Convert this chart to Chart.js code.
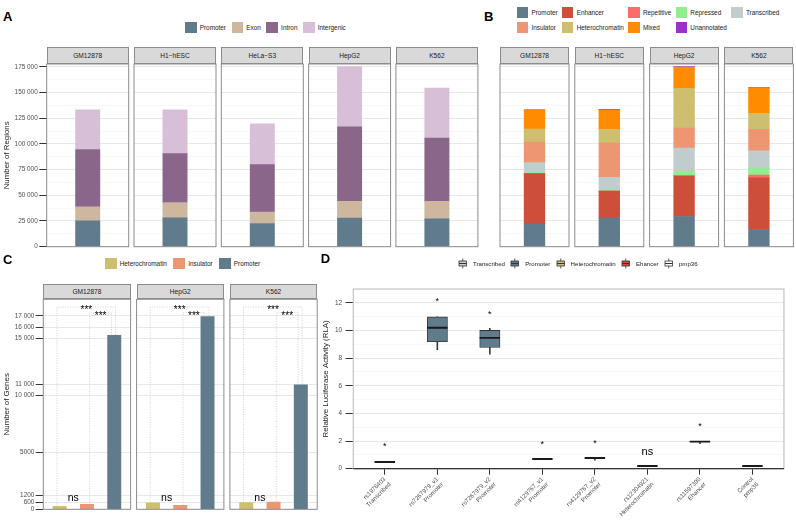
<!DOCTYPE html>
<html>
<head>
<meta charset="utf-8">
<title>Regulatory regions</title>
<script src="https://cdn.jsdelivr.net/npm/chart.js@4.4.1/dist/chart.umd.min.js"></script>
<style>
  html, body { margin: 0; padding: 0; background: #ffffff; }
  #page { position: relative; width: 796px; height: 528px; overflow: hidden; font-family: 'Liberation Sans', Arial, sans-serif; }
  #page canvas, .strip, .legend, .tag { position: absolute; }
  .tag { font-size: 13px; line-height: 13px; font-weight: bold; color: #000; }
  .strip { box-sizing: border-box; background: #d9d9d9; border: 1px solid #8c8c8c; color: #1a1a1a; font-size: 6.6px; display: flex; align-items: center; justify-content: center; }
  .legend { display: flex; align-items: center; height: 11px; font-size: 6.4px; color: #1a1a1a; white-space: nowrap; }
  .legend.grid { display: grid; grid-template-columns: repeat(5, auto); height: auto; }
  .key { display: flex; align-items: center; height: 11px; }
  .swatch { width: 11.5px; height: 11px; margin-right: 3.2px; flex: none; }
</style>
</head>
<body>
<div id="page"></div>
<script>
// ---- A: genomic annotation of the regions, per cell line ----
const cellsA = ['GM12878', 'H1\u2212hESC', 'HeLa\u2212S3', 'HepG2', 'K562'];
const featuresA = ['Promoter', 'Exon', 'Intron', 'Intergenic'];
const featureColoursA = ['#607B8B', '#CDB79E', '#8B668B', '#D8BFD8'];
const promoterA = [25200, 28100, 22600, 27800, 27100];
const exonA = [13700, 14700, 11100, 16300, 17000];
const intronA = [55600, 47800, 46100, 72600, 61500];
const intergenicA = [38600, 42500, 39600, 58600, 48700];

// ---- B: chromatin state of the regions, per cell line ----
const cellsB = ['GM12878', 'H1\u2212hESC', 'HepG2', 'K562'];
const statesB = ['Promoter', 'Enhancer', 'Repetitive', 'Repressed', 'Transcribed', 'Insulator', 'Heterochromatin', 'Mixed', 'Unannotated'];
const stateColoursB = ['#607B8B', '#CD4F39', '#FF6A6A', '#90EE90', '#C1CDCD', '#EE9572', '#CDBE70', '#FF8C00', '#9932CC'];
const promoterB = [22200, 28100, 29400, 16700];
const enhancerB = [48800, 25900, 39300, 50300];
const repetitiveB = [0, 0, 500, 2700];
const repressedB = [1000, 1000, 4400, 6500];
const transcribedB = [9800, 12400, 22200, 17000];
const insulatorB = [19900, 33300, 19600, 20600];
const heterochromatinB = [12800, 13400, 38600, 16000];
const mixedB = [18600, 19000, 20600, 24500];
const unannotatedB = [0, 600, 700, 500];

// shared y axis of A and B
const regionMax = 177700;
const regionMajor = [0, 25000, 50000, 75000, 100000, 125000, 150000, 175000];
const regionMinor = [12500, 37500, 62500, 87500, 112500, 137500, 162500];
const regionTickLabels = ['0', '25 000', '50 000', '75 000', '100 000', '125 000', '150 000', '175 000'];

// ---- C: genes near each class of region ----
const cellsC = ['GM12878', 'HepG2', 'K562'];
const classesC = ['Heterochromatin', 'Insulator', 'Promoter'];
const classColoursC = ['#CDBE70', '#EE9572', '#607B8B'];
const heterochromatinC = [260, 560, 590];
const insulatorC = [440, 350, 640];
const promoterC = [15300, 16950, 10950];
const geneMax = 18460;
const geneTicks = [0, 600, 1200, 5000, 10000, 11000, 15000, 16000, 17000];
const geneTickLabels = ['0', '600', '1200', '5000', '10 000', '11 000', '15 000', '16 000', '17 000'];
const bracketHeightsC = [17780, 17280];
const bracketLabelsC = ['***', '***'];
const nsHeightC = 990;

// ---- D: luciferase assay ----
const constructsD = ['rs1976403', 'rs7267979_v1', 'rs7267979_v2', 'rs4129767_v1', 'rs4129767_v2', 'rs12304921', 'rs11597390', 'Control'];
const groupsD = ['Transcribed', 'Promoter', 'Promoter', 'Promoter', 'Promoter', 'Heterochromatin', 'Ehancer', 'pmp36'];
const groupNamesD = ['Transcribed', 'Promoter', 'Heterochromatin', 'Ehancer', 'pmp36'];
const groupColoursD = ['#C1CDCD', '#607B8B', '#CDBE70', '#CD4F39', '#FFFFFF'];
const lowD = [0.47, 8.61, 8.28, 0.69, 0.61, 0.18, 1.82, 0.18];
const q1D = [0.47, 9.19, 8.77, 0.69, 0.75, 0.18, 1.94, 0.18];
const medianD = [0.49, 10.2, 9.47, 0.70, 0.77, 0.19, 1.96, 0.19];
const q3D = [0.51, 10.99, 10.01, 0.72, 0.79, 0.21, 1.98, 0.21];
const highD = [0.51, 10.99, 10.15, 0.72, 0.79, 0.21, 1.98, 0.21];
const sigD = ['*', '*', '*', '*', '*', 'ns', '*', ''];
const sigHeightD = [1.68, 12.19, 11.25, 1.87, 1.96, 1.19, 3.16, null];
const rlaMajor = [0, 2, 4, 6, 8, 10, 12];
const rlaMinor = [1, 3, 5, 7, 9, 11];

const INK = '#333333';
const TICK_TEXT = '#4d4d4d';
const TITLE_TEXT = '#1a1a1a';
const FRAME = '#8c8c8c';
const GRID_MAJOR = '#e8e8e8';
const GRID_MINOR = '#f4f4f4';
const FONT = "'Liberation Sans', Arial, sans-serif";

Chart.defaults.font.family = FONT;
Chart.defaults.animation = false;
Chart.defaults.responsive = false;
Chart.defaults.plugins.legend.display = false;
Chart.defaults.plugins.tooltip.enabled = false;

const page = document.getElementById('page');

function addCanvas(left, top, width, height) {
    const c = document.createElement('canvas');
    c.width = width;
    c.height = height;
    c.style.left = left + 'px';
    c.style.top = top + 'px';
    page.appendChild(c);
    return c;
}

function addStrip(text, left, top, width, height) {
    const d = document.createElement('div');
    d.className = 'strip';
    d.textContent = text;
    Object.assign(d.style, { left: left + 'px', top: top + 'px', width: width + 'px', height: height + 'px' });
    page.appendChild(d);
}

function addTag(text, left, top) {
    const d = document.createElement('div');
    d.className = 'tag';
    d.textContent = text;
    d.style.left = left + 'px';
    d.style.top = top + 'px';
    page.appendChild(d);
}

function makeKey(name, swatch) {
    const key = document.createElement('div');
    key.className = 'key';
    key.appendChild(swatch);
    const label = document.createElement('span');
    label.textContent = name;
    key.appendChild(label);
    return key;
}

function colourSwatch(colour) {
    const s = document.createElement('span');
    s.className = 'swatch';
    s.style.background = colour;
    return s;
}

function boxSwatch(colour) {
    const s = document.createElementNS('http://www.w3.org/2000/svg', 'svg');
    s.setAttribute('width', '11.5');
    s.setAttribute('height', '11');
    s.style.marginRight = '4.3px';
    s.style.flex = 'none';
    s.innerHTML =
        '<line x1="5.75" y1="0.5" x2="5.75" y2="10.5" stroke="' + INK + '" stroke-width="0.8"/>' +
        '<rect x="2" y="3" width="7.5" height="5" fill="' + colour + '" stroke="' + INK + '" stroke-width="0.8"/>' +
        '<line x1="2" y1="5.5" x2="9.5" y2="5.5" stroke="' + INK + '" stroke-width="1"/>';
    return s;
}

function addLegend(keys, style, className) {
    const d = document.createElement('div');
    d.className = className || 'legend';
    Object.assign(d.style, style);
    keys.forEach(k => d.appendChild(k));
    page.appendChild(d);
}

// panel frame, drawn over the chart area
const frame = {
    id: 'frame',
    afterDraw(chart, args, opts) {
        const { ctx, chartArea: a } = chart;
        ctx.save();
        ctx.strokeStyle = opts.colour;
        ctx.lineWidth = opts.width;
        ctx.strokeRect(a.left, a.top, a.right - a.left, a.bottom - a.top);
        if (opts.baseColour) {
            ctx.strokeStyle = opts.baseColour;
            ctx.beginPath();
            ctx.moveTo(a.left, a.bottom);
            ctx.lineTo(a.right, a.bottom);
            ctx.stroke();
        }
        ctx.restore();
    }
};

// dotted significance brackets (panel C)
const brackets = {
    id: 'brackets',
    afterDatasetsDraw(chart, args, opts) {
        const { ctx, scales: { x, y } } = chart;
        ctx.save();
        ctx.strokeStyle = '#bdbdbd';
        ctx.lineWidth = 0.7;
        ctx.setLineDash([1, 1.5]);
        opts.items.forEach(b => {
            const x1 = x.getPixelForValue(b.x1);
            const x2 = x.getPixelForValue(b.x2);
            const top = y.getPixelForValue(b.y);
            ctx.beginPath();
            ctx.moveTo(x1, y.getPixelForValue(b.foot1));
            ctx.lineTo(x1, top);
            ctx.lineTo(x2, top);
            ctx.lineTo(x2, y.getPixelForValue(b.foot2));
            ctx.stroke();
        });
        ctx.restore();
    }
};

// text marks centred on a data position (stars, ns)
const glyphs = {
    id: 'glyphs',
    afterDatasetsDraw(chart, args, opts) {
        const { ctx, scales: { x, y } } = chart;
        ctx.save();
        ctx.fillStyle = '#000000';
        ctx.textAlign = 'center';
        ctx.textBaseline = 'alphabetic';
        opts.items.forEach(it => {
            if (!it.text) return;
            ctx.font = it.size + 'px ' + FONT;
            const m = ctx.measureText(it.text);
            const px = x.getPixelForValue(it.x);
            const py = y.getPixelForValue(it.y) + (m.actualBoundingBoxAscent - m.actualBoundingBoxDescent) / 2;
            ctx.fillText(it.text, px, py);
        });
        ctx.restore();
    }
};

function yGrid(majors, drawTicks, tickLength) {
    const isMajor = c => c.tick && majors.includes(c.tick.value);
    return {
        color: c => isMajor(c) ? GRID_MAJOR : GRID_MINOR,
        lineWidth: c => isMajor(c) ? 1 : 0.6,
        drawTicks: drawTicks,
        tickLength: tickLength,
        tickColor: c => isMajor(c) ? INK : 'rgba(0,0,0,0)',
        tickWidth: 1
    };
}

// ---------- A and B: stacked facets ----------
const boxA = { left: 46.7, step: 87.3, width: 82, top: 64, bottom: 246.7, stripTop: 46.7, canvasTop: 58, canvasBottom: 253 };
const boxB = { left: 500, step: 74.8, width: 69, top: 64, bottom: 246.7, stripTop: 46.7, canvasTop: 58, canvasBottom: 253 };

function stackFacet(box, cell, index, names, colours, series, withAxis, barThickness) {
    const plotLeft = box.left + box.step * index;
    const plotRight = plotLeft + box.width;
    const canvasLeft = withAxis ? 0 : Math.floor(plotLeft) - 2;
    const canvasRight = Math.ceil(plotRight) + 2;
    const canvas = addCanvas(canvasLeft, box.canvasTop, canvasRight - canvasLeft, box.canvasBottom - box.canvasTop);
    addStrip(cell, plotLeft, box.stripTop, box.width, box.top - box.stripTop);

    new Chart(canvas, {
        type: 'bar',
        data: {
            labels: [cell],
            datasets: names.map((name, k) => ({
                label: name,
                data: [series[k][index]],
                backgroundColor: colours[k],
                barThickness: barThickness
            }))
        },
        options: {
            layout: {
                padding: {
                    left: withAxis ? 0 : plotLeft - canvasLeft,
                    right: canvasRight - plotRight,
                    top: box.top - box.canvasTop,
                    bottom: box.canvasBottom - box.bottom
                }
            },
            scales: {
                x: { stacked: true, display: false },
                y: {
                    stacked: true,
                    min: 0,
                    max: regionMax,
                    afterBuildTicks: s => { s.ticks = regionMajor.concat(regionMinor).map(v => ({ value: v })); },
                    afterFit: s => { s.width = withAxis ? plotLeft - canvasLeft : 0; },
                    border: { display: false },
                    grid: yGrid(regionMajor, withAxis, 7.4),
                    ticks: {
                        display: withAxis,
                        padding: 1.6,
                        color: TICK_TEXT,
                        font: { size: 6.4 },
                        callback: v => {
                            const k = regionMajor.indexOf(v);
                            return k < 0 ? '' : regionTickLabels[k];
                        }
                    },
                    title: {
                        display: withAxis,
                        text: 'Number of Regions',
                        color: TITLE_TEXT,
                        font: { size: 7.9 },
                        padding: { top: 2, bottom: 0 }
                    }
                }
            },
            plugins: { frame: { colour: FRAME, width: 1 } }
        },
        plugins: [frame]
    });
}

const seriesA = [promoterA, exonA, intronA, intergenicA];
cellsA.forEach((cell, i) => stackFacet(boxA, cell, i, featuresA, featureColoursA, seriesA, i === 0, 24.3));

const seriesB = [promoterB, enhancerB, repetitiveB, repressedB, transcribedB, insulatorB, heterochromatinB, mixedB, unannotatedB];
cellsB.forEach((cell, i) => stackFacet(boxB, cell, i, statesB, stateColoursB, seriesB, false, 20.7));

// ---------- C: gene counts ----------
const boxC = { left: 43.3, step: 93.3, width: 87.3, top: 299.3, bottom: 509.3, stripTop: 284, canvasTop: 293, canvasBottom: 516 };
const seriesC = [heterochromatinC, insulatorC, promoterC];

cellsC.forEach((cell, i) => {
    const withAxis = i === 0;
    const plotLeft = boxC.left + boxC.step * i;
    const plotRight = plotLeft + boxC.width;
    const canvasLeft = withAxis ? 0 : Math.floor(plotLeft) - 2;
    const canvasRight = Math.ceil(plotRight) + 2;
    const canvas = addCanvas(canvasLeft, boxC.canvasTop, canvasRight - canvasLeft, boxC.canvasBottom - boxC.canvasTop);
    addStrip(cell, plotLeft, boxC.stripTop, boxC.width, boxC.top - boxC.stripTop);

    new Chart(canvas, {
        type: 'bar',
        data: {
            datasets: [{
                data: classesC.map((name, k) => ({ x: k + 1, y: seriesC[k][i] })),
                backgroundColor: classColoursC,
                barThickness: 13.3
            }]
        },
        options: {
            layout: {
                padding: {
                    left: withAxis ? 0 : plotLeft - canvasLeft,
                    right: canvasRight - plotRight,
                    top: boxC.top - boxC.canvasTop,
                    bottom: boxC.canvasBottom - boxC.bottom
                }
            },
            scales: {
                x: { type: 'linear', min: 0.4, max: 3.6, offset: false, grid: { offset: false }, display: false },
                y: {
                    min: 0,
                    max: geneMax,
                    afterBuildTicks: s => { s.ticks = geneTicks.map(v => ({ value: v })); },
                    afterFit: s => { s.width = withAxis ? plotLeft - canvasLeft : 0; },
                    border: { display: false },
                    grid: yGrid(geneTicks, withAxis, 7.6),
                    ticks: {
                        display: withAxis,
                        padding: 1.4,
                        color: TICK_TEXT,
                        font: { size: 6.4 },
                        callback: v => {
                            const k = geneTicks.indexOf(v);
                            return k < 0 ? '' : geneTickLabels[k];
                        }
                    },
                    title: {
                        display: withAxis,
                        text: 'Number of Genes',
                        color: TITLE_TEXT,
                        font: { size: 7.9 },
                        padding: { top: 2, bottom: 0 }
                    }
                }
            },
            plugins: {
                frame: { colour: FRAME, width: 1 },
                brackets: {
                    items: [
                        { x1: 0.9, x2: 3.05, y: bracketHeightsC[0], foot1: heterochromatinC[i], foot2: promoterC[i] },
                        { x1: 2.1, x2: 2.9, y: bracketHeightsC[1], foot1: insulatorC[i], foot2: promoterC[i] }
                    ]
                },
                glyphs: {
                    items: [
                        { x: 1.98, y: bracketHeightsC[0], text: bracketLabelsC[0], size: 10 },
                        { x: 2.5, y: bracketHeightsC[1], text: bracketLabelsC[1], size: 10 },
                        { x: 1.5, y: nsHeightC, text: 'ns', size: 10.5 }
                    ]
                }
            }
        },
        plugins: [brackets, frame, glyphs]
    });
});

// ---------- D: luciferase box plot ----------
const boxD = { canvasLeft: 319, canvasTop: 277, canvasRight: 796, canvasBottom: 528, plotLeft: 353.3, plotRight: 792.3, plotTop: 283.3, plotBottom: 468.7 };
const canvasD = addCanvas(boxD.canvasLeft, boxD.canvasTop, boxD.canvasRight - boxD.canvasLeft, boxD.canvasBottom - boxD.canvasTop);
const fillD = groupsD.map(g => groupColoursD[groupNamesD.indexOf(g)]);

new Chart(canvasD, {
    type: 'bar',
    data: {
        datasets: [
            {
                label: 'whiskers',
                data: constructsD.map((c, i) => ({ x: i + 1, y: [lowD[i], highD[i]] })),
                backgroundColor: INK,
                barThickness: 0.9,
                grouped: false,
                order: 3
            },
            {
                label: 'boxes',
                data: constructsD.map((c, i) => ({ x: i + 1, y: [q1D[i], q3D[i]] })),
                backgroundColor: fillD,
                borderColor: INK,
                borderWidth: 0.9,
                borderSkipped: false,
                barThickness: 20.3,
                grouped: false,
                order: 2
            },
            {
                type: 'line',
                label: 'median',
                data: constructsD.map((c, i) => ({ x: i + 1, y: medianD[i] })),
                showLine: false,
                pointStyle: 'line',
                pointRadius: 10.15,
                pointBorderWidth: 1.9,
                pointBorderColor: '#1a1a1a',
                order: 1
            }
        ]
    },
    options: {
        layout: {
            padding: { left: 0, right: boxD.canvasRight - boxD.plotRight, top: boxD.plotTop - boxD.canvasTop, bottom: 0 }
        },
        scales: {
            x: {
                type: 'linear',
                min: 0.4,
                max: 8.6,
                offset: false,
                afterBuildTicks: s => { s.ticks = constructsD.map((c, i) => ({ value: i + 1 })); },
                afterFit: s => { s.height = boxD.canvasBottom - boxD.plotBottom; },
                border: { display: false },
                grid: { offset: false, drawOnChartArea: false, tickLength: 6, tickColor: INK, tickWidth: 1 },
                ticks: {
                    autoSkip: false,
                    minRotation: 45,
                    maxRotation: 45,
                    padding: 1,
                    color: TICK_TEXT,
                    font: { size: 6.1 },
                    callback: v => [constructsD[v - 1], groupsD[v - 1]]
                }
            },
            y: {
                min: 0,
                max: 13,
                afterBuildTicks: s => { s.ticks = rlaMajor.concat(rlaMinor).map(v => ({ value: v })); },
                afterFit: s => { s.width = boxD.plotLeft - boxD.canvasLeft; },
                border: { display: false },
                grid: yGrid(rlaMajor, true, 7.7),
                ticks: {
                    padding: 3.5,
                    color: TICK_TEXT,
                    font: { size: 6.4 },
                    callback: v => rlaMajor.includes(v) ? String(v) : ''
                },
                title: {
                    display: true,
                    text: 'Relative Luciferase Activity (RLA)',
                    color: TITLE_TEXT,
                    font: { size: 7.9 },
                    padding: { top: 2, bottom: 0 }
                }
            }
        },
        plugins: {
            frame: { colour: '#c4c4c4', width: 1.2, baseColour: INK },
            glyphs: {
                items: constructsD.map((c, i) => ({
                    x: i + 1,
                    y: sigHeightD[i],
                    text: sigD[i],
                    size: sigD[i] === 'ns' ? 11 : 9
                }))
            }
        }
    },
    plugins: [frame, glyphs]
});

// ---------- legends and panel tags ----------
addLegend(featuresA.map((n, k) => makeKey(n, colourSwatch(featureColoursA[k]))),
    { left: '185px', top: '21.8px', columnGap: '5.6px' });

addLegend(statesB.map((n, k) => makeKey(n, colourSwatch(stateColoursB[k]))),
    { left: '516.7px', top: '6.8px', columnGap: '4.3px', rowGap: '4px' }, 'legend grid');

addLegend(classesC.map((n, k) => makeKey(n, colourSwatch(classColoursC[k]))),
    { left: '105px', top: '257.8px', columnGap: '6.5px' });

addLegend(groupNamesD.map((n, k) => makeKey(n, boxSwatch(groupColoursD[k]))),
    { left: '457.2px', top: '257.8px', columnGap: '4.5px', fontSize: '6.1px' });

addTag('A', 3, 10);
addTag('B', 484, 10);
addTag('C', 3, 253.3);
addTag('D', 320.7, 251.6);
</script>
</body>
</html>
